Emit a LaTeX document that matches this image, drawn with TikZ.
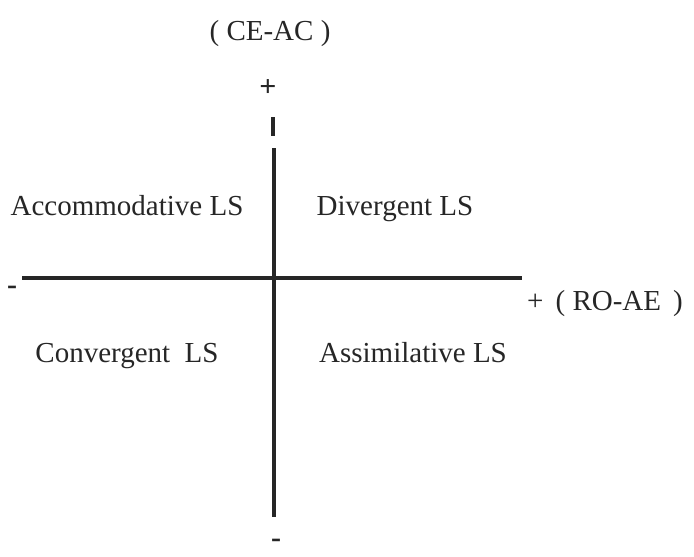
\documentclass[tikz,border=0pt]{standalone}
\usepackage{fontspec}
\setmainfont{Liberation Serif}
\begin{document}
\begin{tikzpicture}[x=1pt,y=-1pt,
  lbl/.style={font=\fontsize{29}{34}\selectfont, inner sep=0pt, text=black!85, anchor=base},
  sgn/.style={font=\fontsize{30}{34}\selectfont\bfseries, inner sep=0pt, text=black!85},
  axis/.style={line width=3.6pt, draw=black!85}]
\useasboundingbox (0,0) rectangle (694,557);
% axes endpoints
\coordinate (htl) at (22,278);
\coordinate (htr) at (522,278);
\coordinate (vtop) at (274,148);
\coordinate (vbot) at (274,517);
\coordinate (dtop) at (273,117);
\coordinate (dbot) at (273,136);
\draw[axis] (htl) -- (htr);
\draw[axis] (vtop) -- (vbot);
\draw[axis, line width=4pt] (dtop) -- (dbot);
% labels
\node[lbl] (ceac) at (270,40) {( CE-AC )};
\node[sgn] (yplus) at (268,88) {+};
\node[sgn] (yminus) at (276,543) {-};
\node[sgn] (xminus) at (12,290) {-};
\node[lbl, anchor=base west] (roae) at (527,310) {+ \,( RO-AE\, )};
\node[lbl] (acc) at (127,215) {Accommodative LS};
\node[lbl] (div) at (395,215) {Divergent LS};
\node[lbl] (conv) at (127,362) {Convergent \ LS};
\node[lbl] (assim) at (413,362) {Assimilative LS};
\end{tikzpicture}
\end{document}
